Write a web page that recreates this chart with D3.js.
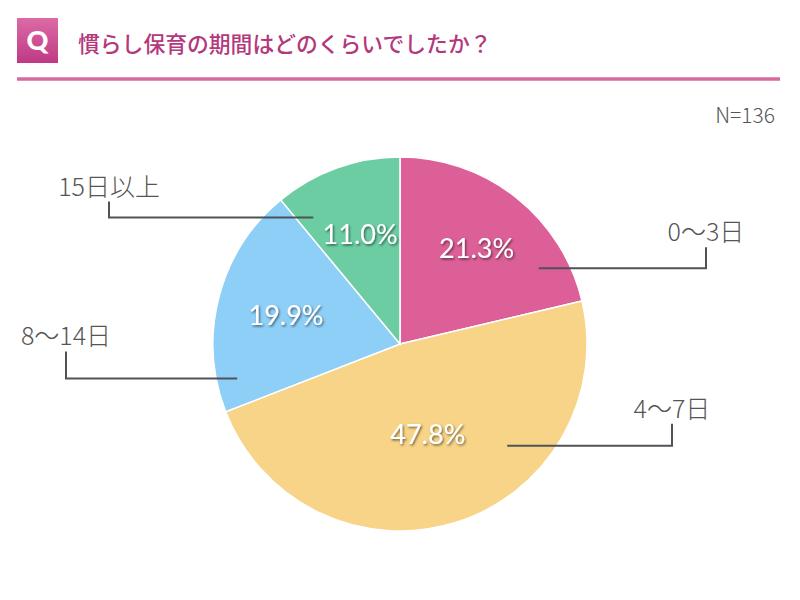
<!DOCTYPE html>
<html>
<head>
<meta charset="utf-8">
<script src="https://cdn.jsdelivr.net/npm/d3@7"></script>
<style>
  body { margin: 0; background: #fff; }
  svg { display: block; }
  .title { font-family: "Noto Sans CJK JP", sans-serif; font-weight: 500; }
  .cat-label { font-family: "Noto Sans CJK JP", sans-serif; font-weight: 300; fill: #555; }
  .pct-label { font-family: Lato, "Noto Sans", sans-serif; fill: #fff; }
</style>
</head>
<body>
<div id="chart"></div>
<script>
// Survey: how long was the settling-in period at nursery? (N=136)
const categories = ['0〜3日', '4〜7日', '8〜14日', '15日以上'];
const shares = [21.3, 47.8, 19.9, 11.0];
const sliceColors = ['#dc5f98', '#f7d487', '#8ecff7', '#6ccda3'];
const titleText = '慣らし保育の期間はどのくらいでしたか？';
const sampleNote = 'N=136';

// Callout layout per slice (not data): where the leader starts inside the
// slice (fraction of slice angle / radius), the elbow x and the rise height.
const callouts = [
  { t: 0.80, r: 0.845, elbowX: 706, rise: 21 },
  { t: 0.33, r: 0.79, elbowX: 672, rise: 22 },
  { t: 0.13, r: 0.89, elbowX: 66, rise: 27 },
  { t: 0.13, r: 0.82, elbowX: 109, rise: 16 },
];
// Radius (fraction) at which each percentage is written
const pctRadius = [0.66, 0.50, 0.63, 0.63];

const width = 800, height = 600;
const cx = 400, cy = 344, radius = 187;

const svg = d3.select('#chart').append('svg')
  .attr('width', width).attr('height', height);

const defs = svg.append('defs');
const grad = defs.append('linearGradient').attr('id', 'qgrad')
  .attr('x1', 0).attr('y1', 0).attr('x2', 0).attr('y2', 1);
grad.append('stop').attr('offset', '0%').attr('stop-color', '#dc6aa6');
grad.append('stop').attr('offset', '100%').attr('stop-color', '#bf3a83');

const shadow = defs.append('filter').attr('id', 'txtshadow')
  .attr('x', '-20%').attr('y', '-20%').attr('width', '140%').attr('height', '140%');
shadow.append('feDropShadow')
  .attr('dx', 1.2).attr('dy', 1.5).attr('stdDeviation', 0.8)
  .attr('flood-color', '#000').attr('flood-opacity', 0.55);

// Header
svg.append('rect').attr('x', 17).attr('y', 18).attr('width', 41).attr('height', 45)
  .attr('fill', 'url(#qgrad)');
svg.append('text').attr('x', 37.5).attr('y', 50)
  .attr('text-anchor', 'middle')
  .attr('font-family', 'Lato, sans-serif').attr('font-weight', 900)
  .attr('font-size', 27).attr('fill', '#fff').text('Q');
svg.append('text').attr('class', 'title')
  .attr('x', 78).attr('y', 52).attr('font-size', 21.8).attr('fill', '#b3387c')
  .text(titleText);
svg.append('line').attr('x1', 17).attr('x2', 780).attr('y1', 79).attr('y2', 79)
  .attr('stroke', '#d56aa1').attr('stroke-width', 3.5);

svg.append('text').attr('class', 'cat-label')
  .attr('x', 775).attr('y', 114).attr('text-anchor', 'end')
  .attr('dominant-baseline', 'central')
  .attr('font-size', 21).text(sampleNote);

// Pie
const pie = d3.pie().sort(null).value(d => d.value);
const arcs = pie(categories.map((c, i) => ({ cat: c, value: shares[i], i })));
const arc = d3.arc().innerRadius(0).outerRadius(radius);

const g = svg.append('g').attr('transform', `translate(${cx},${cy})`);

g.selectAll('path.slice')
  .data(arcs)
  .join('path')
  .attr('class', 'slice')
  .attr('d', arc)
  .attr('fill', d => sliceColors[d.data.i])
  .attr('stroke', '#fff')
  .attr('stroke-width', 1.5);

function polar(angle, r) {
  return [Math.sin(angle) * r, -Math.cos(angle) * r];
}

// Leader lines + category labels
arcs.forEach(d => {
  const c = callouts[d.data.i];
  const a = d.startAngle + (d.endAngle - d.startAngle) * c.t;
  const [sx, sy] = polar(a, radius * c.r);
  const ex = c.elbowX - cx;
  g.append('path')
    .attr('d', `M${sx},${sy}H${ex}V${sy - c.rise}`)
    .attr('fill', 'none')
    .attr('stroke', '#4f5257')
    .attr('stroke-width', 2);
  g.append('text')
    .attr('class', 'cat-label')
    .attr('x', ex)
    .attr('y', sy - c.rise - 17)
    .attr('text-anchor', 'middle')
    .attr('dominant-baseline', 'central')
    .attr('font-size', 25)
    .text(d.data.cat);
});

// Percentages
g.selectAll('text.pct-label')
  .data(arcs)
  .join('text')
  .attr('class', 'pct-label')
  .attr('transform', d => {
    const a = (d.startAngle + d.endAngle) / 2;
    const [x, y] = polar(a, radius * pctRadius[d.data.i]);
    return `translate(${x},${y})`;
  })
  .attr('text-anchor', 'middle')
  .attr('dominant-baseline', 'central')
  .attr('font-size', 27)
  .attr('filter', 'url(#txtshadow)')
  .text(d => d3.format('.1f')(d.data.value) + '%');
</script>
</body>
</html>
